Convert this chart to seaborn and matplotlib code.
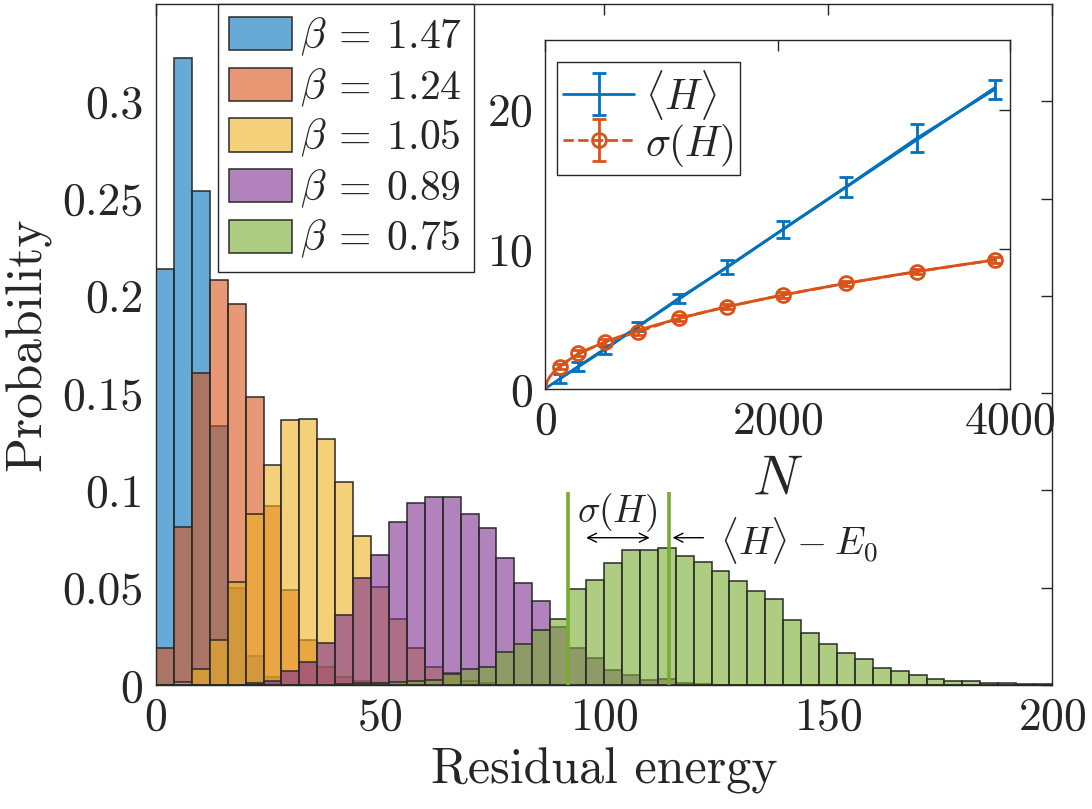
import numpy as np
import pandas as pd
import matplotlib
matplotlib.use("Agg")
import matplotlib.pyplot as plt
import seaborn as sns
from matplotlib.patches import Patch
from matplotlib.ticker import FuncFormatter

# ---------------- data ----------------
bin_width = 4
bin_range = (0, 200)
beta_labels = ["1.47", "1.24", "1.05", "0.89", "0.75"]

p_147 = [0.214, 0.322, 0.254, 0.133, 0.050, 0.015, 0.004] + [0.0] * 43
p_124 = [0.019, 0.081, 0.1605, 0.208, 0.196, 0.148, 0.092, 0.049, 0.023, 0.009,
         0.004, 0.002, 0.001] + [0.0] * 37
p_105 = [0.0, 0.0015, 0.008, 0.023, 0.053, 0.0877, 0.113, 0.136, 0.1365, 0.1266,
         0.1045, 0.0766, 0.0504, 0.034, 0.019, 0.009, 0.006, 0.002, 0.001] + [0.0] * 31
p_089 = [0.0] * 5 + [0.001, 0.002, 0.007, 0.012, 0.0214, 0.036, 0.055, 0.0666, 0.0838,
                     0.0934, 0.0968, 0.0965, 0.0879, 0.0805, 0.0651, 0.0523, 0.043,
                     0.0298, 0.019, 0.0137, 0.0076, 0.0052, 0.0024, 0.0032, 0.001,
                     0.0005] + [0.0] * 19
p_075 = [0.0] * 10 + [0.0005, 0.001, 0.001, 0.0015, 0.002, 0.0025, 0.0055, 0.008, 0.009,
                      0.017, 0.021, 0.0285, 0.0337, 0.0495, 0.0538, 0.0627, 0.0695,
                      0.0692, 0.0706, 0.0661, 0.0634, 0.0585, 0.0536, 0.0483, 0.0444,
                      0.0336, 0.0265, 0.0209, 0.0166, 0.0135, 0.0086, 0.007, 0.0051,
                      0.003, 0.0019, 0.0022, 0.001, 0.0012, 0.0006, 0.0003]

# markers of <H> - sigma and <H> for beta = 0.75
marker_x = [92.0, 114.5]
marker_top = 0.099

# inset data
N_vals = [128, 288, 512, 800, 1152, 1568, 2048, 2592, 3200, 3872]
H_mean = [0.76, 1.6, 2.8, 4.47, 6.5, 8.72, 11.45, 14.5, 17.97, 21.48]
H_err = [0.3, 0.3, 0.3, 0.3, 0.33, 0.5, 0.6, 0.72, 1.0, 0.68]
H_sigma = [1.6, 2.56, 3.35, 4.1, 5.07, 5.9, 6.74, 7.57, 8.41, 9.25]
sigma_err = [0.2, 0.2, 0.2, 0.2, 0.2, 0.2, 0.2, 0.2, 0.2, 0.2]

# ---------------- style ----------------
sns.set_style("white")
plt.rcParams["font.family"] = ["cmr10", "DejaVu Serif"]
plt.rcParams["mathtext.fontset"] = "cm"
plt.rcParams["axes.formatter.use_mathtext"] = True
plt.rcParams["axes.unicode_minus"] = False

colors = ["#0072BD", "#D95319", "#EDB120", "#7E2F8E", "#77AC30"]
alpha = 0.6
edge = "#2a2a2a"

W, H = 1092, 809
fig = plt.figure(figsize=(W / 100, H / 100), dpi=100)
ax = fig.add_axes([156 / W, (H - 685) / H, 896 / W, 681 / H])

n_bins = int((bin_range[1] - bin_range[0]) / bin_width)
centers = bin_range[0] + bin_width * (np.arange(n_bins) + 0.5)
series = [p_147, p_124, p_105, p_089, p_075]
for vals, c in zip(series, colors):
    df = pd.DataFrame({"energy": centers, "prob": np.asarray(vals, float)})
    sns.histplot(data=df, x="energy", weights="prob", binwidth=bin_width,
                 binrange=bin_range, ax=ax, color=c, alpha=alpha,
                 edgecolor=edge, linewidth=1.1)

ax.vlines(marker_x, 0, marker_top, color="#77AC30", linewidth=2.6, zorder=5)

ax.set_xlim(0, 200)
ax.set_ylim(0, 0.35)
ax.set_xticks([0, 50, 100, 150, 200])
ax.set_yticks([0, 0.05, 0.1, 0.15, 0.2, 0.25, 0.3])
ax.yaxis.set_major_formatter(FuncFormatter(lambda v, p: "%g" % v))
ax.tick_params(direction="in", length=8, width=1, top=True, right=True,
               labelsize=33, pad=9, colors="#262626")
for s in ax.spines.values():
    s.set_color("#262626")
    s.set_linewidth(1.0)
ax.set_xlabel("Residual energy", fontsize=36, labelpad=6)
ax.set_ylabel("Probability", fontsize=37, labelpad=8)

# annotations
ax.text(103, 0.0885, r"$\sigma(H)$", fontsize=27, ha="center", va="center")
ax.annotate("", xy=(96, 0.0757), xytext=(110.2, 0.0757),
            arrowprops=dict(arrowstyle="<->", color="black", lw=1.0,
                            shrinkA=0, shrinkB=0, mutation_scale=16))
ax.annotate("", xy=(115.3, 0.0757), xytext=(122.2, 0.0757),
            arrowprops=dict(arrowstyle="->", color="black", lw=1.0,
                            shrinkA=0, shrinkB=0, mutation_scale=16))
ax.text(126, 0.0745, r"$\langle H\rangle \:-\: E_0$", fontsize=28, ha="left", va="center")

handles = [Patch(facecolor=matplotlib.colors.to_rgba(c, alpha), edgecolor=edge, linewidth=1.1)
           for c in colors]
labels = [r"$\beta \:=\: %s$" % b for b in beta_labels]
leg = ax.legend(handles, labels, loc="upper left", bbox_to_anchor=(0.069, 1.0),
                borderaxespad=0, fontsize=30, frameon=True, fancybox=False,
                edgecolor="#262626", framealpha=1, handlelength=1.5, handleheight=0.85,
                labelspacing=0.2, borderpad=0.28, handletextpad=0.2)
leg.get_frame().set_linewidth(1.0)

# ---------------- inset ----------------
ins = fig.add_axes([545 / W, (H - 389) / H, 465 / W, 349 / H])
ins.set_facecolor("white")
blue, orange = "#0072BD", "#D95319"

eb1 = ins.errorbar(N_vals, H_mean, yerr=H_err, color=blue, linestyle="-", linewidth=2,
                   capsize=5, capthick=2, elinewidth=2)
eb2 = ins.errorbar(N_vals, H_sigma, yerr=sigma_err, color=orange, linestyle="--", linewidth=2,
                   marker="o", markersize=10, markerfacecolor="none", markeredgewidth=2,
                   capsize=5, capthick=2, elinewidth=2)

# fits computed from the data
Nn = np.asarray(N_vals, float)
fit_lin = np.polyfit(Nn, H_mean, 1)
grid = np.linspace(0, Nn.max(), 200)
ins.plot(grid, np.polyval(fit_lin, grid), color=blue, linewidth=2)
best = None
for p in np.linspace(0.3, 1.0, 141):
    A = np.vstack([Nn ** p, np.ones_like(Nn)]).T
    coef, res, *_ = np.linalg.lstsq(A, np.asarray(H_sigma), rcond=None)
    r = np.sum((A @ coef - np.asarray(H_sigma)) ** 2)
    if best is None or r < best[0]:
        best = (r, p, coef)
_, pbest, cbest = best
ins.plot(grid, cbest[0] * grid ** pbest + cbest[1], color=orange, linewidth=2)

ins.set_xlim(0, 4000)
ins.set_ylim(0, 25)
ins.set_xticks([0, 2000, 4000])
ins.set_yticks([0, 10, 20])
ins.tick_params(direction="in", length=8, width=1, top=True, right=True,
                labelsize=33, pad=9, colors="#262626")
for s in ins.spines.values():
    s.set_color("#262626")
    s.set_linewidth(1.0)
ins.set_xlabel(r"$N$", fontsize=40, labelpad=9)

ileg = ins.legend([eb1, eb2], [r"$\langle H\rangle$", r"$\sigma(H)$"], loc="upper left",
                  bbox_to_anchor=(0.026, 0.937), borderaxespad=0, fontsize=30,
                  frameon=True, fancybox=False, edgecolor="#262626", framealpha=1,
                  handlelength=1.7, handleheight=1.0, labelspacing=0.0, borderpad=0.15,
                  handletextpad=0.25)
ileg.get_frame().set_linewidth(1.0)

fig.savefig("out.png", dpi=100)
